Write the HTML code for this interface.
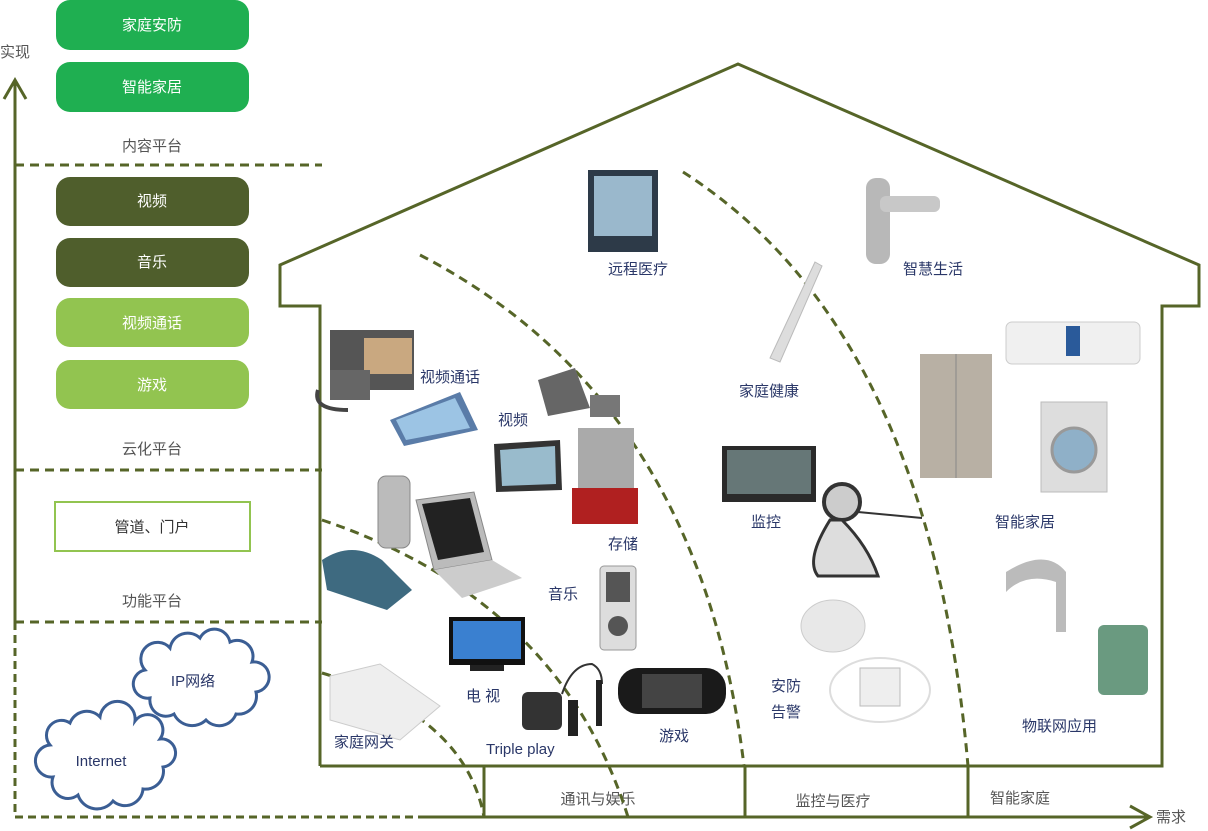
<!DOCTYPE html>
<html><head><meta charset="utf-8"><style>
html,body{margin:0;padding:0;background:#fff;}
body{width:1208px;height:831px;overflow:hidden;position:relative;font-family:"Liberation Sans","Noto Sans CJK SC",sans-serif;}
svg{position:absolute;left:0;top:0;}
</style></head><body>
<svg width="1208" height="831" viewBox="0 0 1208 831" font-family="Liberation Sans, Noto Sans CJK SC, sans-serif">
<defs><marker id="ah" markerWidth="10" markerHeight="10" refX="5" refY="5" orient="auto"></marker></defs>
<!-- axes -->
<line x1="15" y1="82" x2="15" y2="622" stroke="#566528" stroke-width="3"/>
<polyline points="4,99 15,80 26,99" fill="none" stroke="#566528" stroke-width="3"/>
<line x1="15" y1="622" x2="15" y2="817" stroke="#566528" stroke-width="3" stroke-dasharray="8,5"/>
<line x1="15" y1="817" x2="425" y2="817" stroke="#566528" stroke-width="3" stroke-dasharray="8,5"/>
<line x1="425" y1="817" x2="1148" y2="817" stroke="#566528" stroke-width="3"/>
<polyline points="1130,806 1150,817 1130,828" fill="none" stroke="#566528" stroke-width="3"/>
<text x="0" y="57" font-size="15" fill="#555">实现</text>
<text x="1156" y="822" font-size="15" fill="#555">需求</text>
<!-- dashed separators -->
<g stroke="#566528" stroke-width="3" stroke-dasharray="9,6">
<line x1="15" y1="165" x2="322" y2="165"/>
<line x1="15" y1="470" x2="322" y2="470"/>
<line x1="15" y1="622" x2="322" y2="622"/>
</g>
<!-- buttons -->
<g font-size="15" fill="#fff" text-anchor="middle">
<rect x="56" y="0" width="193" height="50" rx="14" fill="#1faf51"/><text x="152" y="30" fill="#fff">家庭安防</text>
<rect x="56" y="62" width="193" height="50" rx="14" fill="#1faf51"/><text x="152" y="92" fill="#fff">智能家居</text>
<rect x="56" y="177" width="193" height="49" rx="14" fill="#4f5e2c"/><text x="152" y="206" fill="#fff">视频</text>
<rect x="56" y="238" width="193" height="49" rx="14" fill="#4f5e2c"/><text x="152" y="267" fill="#fff">音乐</text>
<rect x="56" y="298" width="193" height="49" rx="14" fill="#92c450"/><text x="152" y="328" fill="#fff">视频通话</text>
<rect x="56" y="360" width="193" height="49" rx="14" fill="#92c450"/><text x="152" y="390" fill="#fff">游戏</text>
</g>
<rect x="55" y="502" width="195" height="49" fill="#fff" stroke="#92c450" stroke-width="2"/>
<text x="152" y="532" font-size="15" fill="#333" text-anchor="middle">管道、门户</text>
<g font-size="15" fill="#555" text-anchor="middle">
<text x="152" y="151">内容平台</text>
<text x="152" y="454">云化平台</text>
<text x="152" y="606">功能平台</text>
</g>
<!-- clouds -->
<g fill="#fff" stroke="#3b5e94" stroke-width="3">
<path d="M145,670 a15,15 0 0,1 25,-22 a18,18 0 0,1 30,-10 a16,16 0 0,1 30,4 a16,16 0 0,1 22,20 a14,14 0 0,1 4,30 a18,18 0 0,1 -20,22 a18,18 0 0,1 -30,6 a20,20 0 0,1 -32,-6 a16,16 0 0,1 -24,-16 a14,14 0 0,1 -5,-28 z"/>
<path d="M50,745 a15,15 0 0,1 20,-22 a18,18 0 0,1 30,-6 a16,16 0 0,1 35,4 a15,15 0 0,1 25,18 a14,14 0 0,1 3,28 a18,18 0 0,1 -20,22 a18,18 0 0,1 -30,12 a20,20 0 0,1 -35,-6 a16,16 0 0,1 -25,-18 a14,14 0 0,1 -3,-32 z"/>
</g>
<text x="193" y="686" font-size="15" fill="#2a3768" text-anchor="middle">IP网络</text>
<text x="101" y="766" font-size="15" fill="#2a3768" text-anchor="middle">Internet</text>
<!-- house -->
<polyline points="320,766 320,306 280,306 280,265 738,64 1199,265 1199,306 1162,306 1162,766 320,766" fill="none" stroke="#566528" stroke-width="3"/>
<g stroke="#566528" stroke-width="3">
<line x1="484" y1="766" x2="484" y2="817"/>
<line x1="745" y1="766" x2="745" y2="817"/>
<line x1="968" y1="766" x2="968" y2="817"/>
</g>
<g font-size="15" fill="#555" text-anchor="middle">
<text x="598" y="804">通讯与娱乐</text>
<text x="833" y="806">监控与医疗</text>
<text x="1020" y="803">智能家庭</text>
</g>
<!-- arcs -->
<g fill="none" stroke="#566528" stroke-width="3" stroke-dasharray="9,6">
<path d="M322,520 Q560,600 628,817"/>
<path d="M322,673 Q465,715 484,817"/>
<path d="M420,255 Q700,400 744,766"/>
<path d="M683,172 Q930,330 968,766"/>
</g>
<!-- device approximations -->
<g>
<rect x="588" y="170" width="70" height="82" fill="#2d3a48"/><rect x="594" y="176" width="58" height="60" fill="#9ab8cc"/>
<rect x="866" y="178" width="24" height="86" rx="10" fill="#b8b8b8"/><rect x="880" y="196" width="60" height="16" rx="6" fill="#c8c8c8"/>
<polygon points="815,262 822,266 780,362 770,358" fill="#ddd" stroke="#bbb"/>
<rect x="920" y="354" width="72" height="124" fill="#b8b0a4"/><line x1="956" y1="354" x2="956" y2="478" stroke="#888"/>
<rect x="1006" y="322" width="134" height="42" rx="6" fill="#f0f0f0" stroke="#ccc"/><rect x="1066" y="326" width="14" height="30" fill="#2a5a9a"/>
<rect x="1041" y="402" width="66" height="90" fill="#ddd" stroke="#bbb"/><circle cx="1074" cy="450" r="22" fill="#8fb0c8" stroke="#999" stroke-width="3"/>
<path d="M1006,572 q40,-25 60,0 l0,60 l-10,0 l0,-50 q-30,-10 -50,10z" fill="#bbb"/>
<rect x="1098" y="625" width="50" height="70" rx="6" fill="#6a9a80"/>
<rect x="722" y="446" width="94" height="56" fill="#2a2a2a"/><rect x="727" y="450" width="84" height="44" fill="#677"/>
<circle cx="842" cy="502" r="18" fill="#ccc" stroke="#333" stroke-width="4"/><path d="M830,520 q-25,40 -12,56 l60,0 q-10,-30 -36,-56z" fill="#ddd" stroke="#333" stroke-width="3"/>
<line x1="858" y1="512" x2="922" y2="518" stroke="#333" stroke-width="2"/>
<ellipse cx="833" cy="626" rx="32" ry="26" fill="#e8e8e8" stroke="#ccc"/>
<ellipse cx="880" cy="690" rx="50" ry="32" fill="none" stroke="#ddd" stroke-width="2"/><rect x="860" y="668" width="40" height="38" fill="#eee" stroke="#bbb"/>
<rect x="330" y="330" width="84" height="60" fill="#555"/><rect x="364" y="338" width="48" height="36" fill="#c9a880"/><path d="M318,390 q-6,20 30,20" stroke="#444" stroke-width="4" fill="none"/><rect x="330" y="370" width="40" height="30" fill="#666"/>
<polygon points="390,420 460,392 478,430 404,446" fill="#5a7ca8"/><polygon points="396,420 455,398 470,428 406,440" fill="#9cc4e4"/>
<polygon points="538,380 575,368 590,408 548,416" fill="#666"/><rect x="590" y="395" width="30" height="22" fill="#777"/>
<polygon points="494,444 560,440 562,490 496,492" fill="#333"/><polygon points="500,450 555,446 556,484 502,486" fill="#9bc"/>
<rect x="578" y="428" width="56" height="80" fill="#aaa"/><rect x="572" y="488" width="66" height="36" fill="#b02020"/>
<rect x="378" y="476" width="32" height="72" rx="8" fill="#bbb" stroke="#888"/>
<polygon points="416,500 474,492 492,560 434,570" fill="#bbb" stroke="#888"/><polygon points="422,504 470,498 484,552 438,560" fill="#222"/><polygon points="434,570 492,560 522,578 462,598" fill="#ccc"/>
<path d="M322,560 q30,-20 60,0 l30,30 l-25,20 l-60,-20 z" fill="#3e6a80"/>
<rect x="600" y="566" width="36" height="84" rx="4" fill="#ddd" stroke="#999"/><rect x="606" y="572" width="24" height="30" fill="#555"/><circle cx="618" cy="626" r="10" fill="#555"/>
<rect x="449" y="617" width="76" height="48" fill="#111"/><rect x="453" y="621" width="68" height="38" fill="#3a80d0"/><rect x="470" y="665" width="34" height="6" fill="#222"/>
<polygon points="330,676 380,664 440,706 400,740 330,720" fill="#eee" stroke="#ccc"/>
<rect x="522" y="692" width="40" height="38" rx="6" fill="#333"/><path d="M562,694 q10,-30 30,-30 q10,5 10,20" stroke="#333" stroke-width="2" fill="none"/><rect x="596" y="680" width="6" height="46" fill="#222"/><rect x="568" y="700" width="10" height="36" fill="#222"/>
<rect x="618" y="668" width="108" height="46" rx="20" fill="#1a1a1a"/><rect x="642" y="674" width="60" height="34" fill="#444"/>
</g>
<!-- labels -->
<g font-size="15" fill="#2a3768">
<text x="608" y="274">远程医疗</text>
<text x="903" y="274">智慧生活</text>
<text x="739" y="396">家庭健康</text>
<text x="420" y="382">视频通话</text>
<text x="498" y="425">视频</text>
<text x="608" y="549">存储</text>
<text x="751" y="527">监控</text>
<text x="995" y="527">智能家居</text>
<text x="548" y="599">音乐</text>
<text x="466" y="701">电 视</text>
<text x="771" y="691">安防</text>
<text x="771" y="717">告警</text>
<text x="1022" y="731">物联网应用</text>
<text x="334" y="747">家庭网关</text>
<text x="486" y="754">Triple play</text>
<text x="659" y="741">游戏</text>
</g>
</svg>
</body></html>
